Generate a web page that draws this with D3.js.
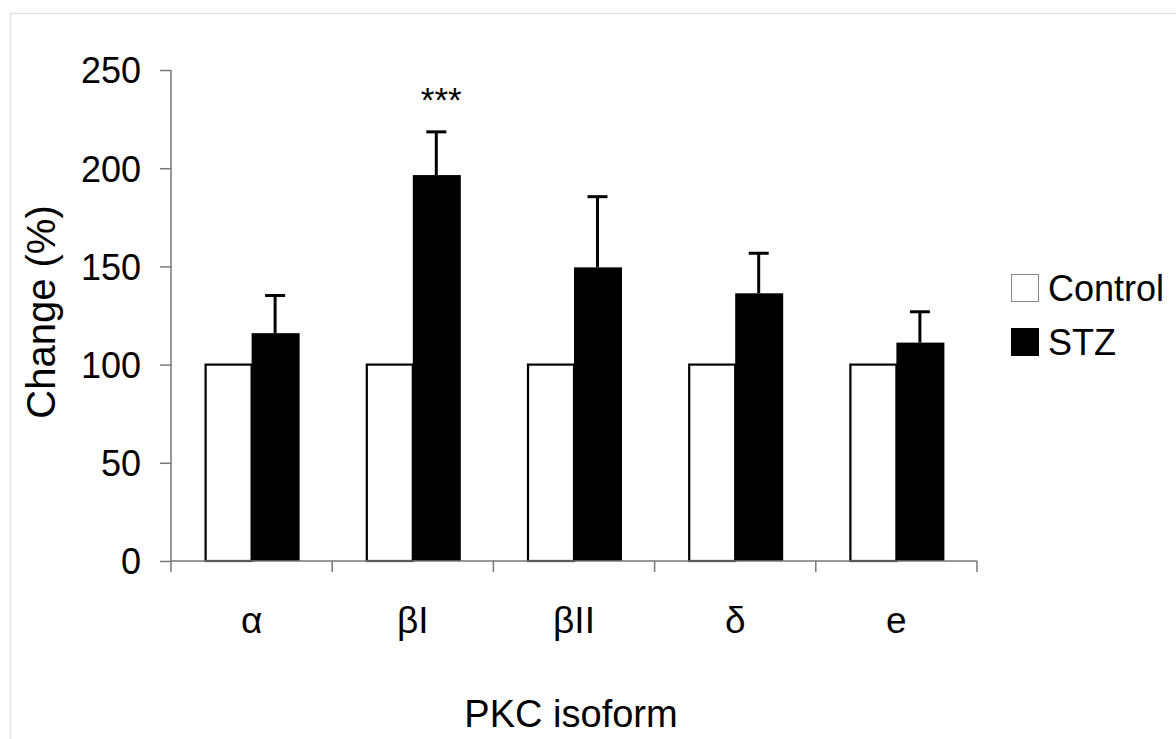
<!DOCTYPE html>
<html>
<head>
<meta charset="utf-8">
<script src="https://cdn.jsdelivr.net/npm/d3@7"></script>
<style>
  body { margin: 0; background: #fff; }
  text { font-family: "Liberation Sans", Arial, sans-serif; fill: #000; }
</style>
</head>
<body>
<div id="chart"></div>
<script>
// data
var isoforms = ["α", "βI", "βII", "δ", "e"];
var groups = ["Control", "STZ"];
var controlValues = [100, 100, 100, 100, 100];
var stzValues = [116, 196.5, 149.5, 136.3, 111.2];
var stzErrors = [19.2, 22, 36, 20.4, 15.7];
var significance = ["", "***", "", "", ""];
var yTicks = [0, 50, 100, 150, 200, 250];

var W = 1176, H = 739;
var margin = {top: 70, left: 171},
    width = 806,
    height = 491;

var svg = d3.select("#chart")
    .append("svg")
    .attr("width", W)
    .attr("height", H);

// light frame round the figure
svg.append("rect")
    .attr("x", 10.5)
    .attr("y", 13.5)
    .attr("width", 1300)
    .attr("height", 900)
    .attr("fill", "#fff")
    .attr("stroke", "#e3e3e3")
    .attr("stroke-width", 1.5);

var g = svg.append("g")
    .attr("transform", "translate(" + margin.left + "," + margin.top + ")");

var x = d3.scaleBand()
    .domain(isoforms)
    .range([0, width])
    .padding(0);

var xSub = d3.scaleBand()
    .domain(groups)
    .range([0, x.bandwidth()])
    .paddingInner(0)
    .paddingOuter(0.715);

var y = d3.scaleLinear()
    .domain([0, 250])
    .range([height, 0]);

var rows = isoforms.map(function (k, i) {
    return {key: k, Control: controlValues[i], STZ: stzValues[i], err: stzErrors[i], sig: significance[i]};
});

// bars
var grp = g.selectAll(".grp")
    .data(rows)
    .enter()
    .append("g")
    .attr("transform", function (d) { return "translate(" + x(d.key) + ",0)"; });

grp.append("rect")
    .attr("x", xSub("Control") + 1)
    .attr("y", function (d) { return y(d.Control); })
    .attr("width", xSub.bandwidth() - 1)
    .attr("height", function (d) { return height - y(d.Control); })
    .attr("fill", "#fff")
    .attr("stroke", "#000")
    .attr("stroke-width", 2.2);

// error bars (upper only)
grp.append("line")
    .attr("x1", xSub("STZ") + xSub.bandwidth() / 2)
    .attr("x2", xSub("STZ") + xSub.bandwidth() / 2)
    .attr("y1", function (d) { return y(d.STZ); })
    .attr("y2", function (d) { return y(d.STZ + d.err); })
    .attr("stroke", "#000")
    .attr("stroke-width", 3);

grp.append("line")
    .attr("x1", xSub("STZ") + xSub.bandwidth() / 2 - 10)
    .attr("x2", xSub("STZ") + xSub.bandwidth() / 2 + 10)
    .attr("y1", function (d) { return y(d.STZ + d.err); })
    .attr("y2", function (d) { return y(d.STZ + d.err); })
    .attr("stroke", "#000")
    .attr("stroke-width", 3);

grp.append("rect")
    .attr("x", xSub("STZ"))
    .attr("y", function (d) { return y(d.STZ); })
    .attr("width", xSub.bandwidth() + 1)
    .attr("height", function (d) { return height - y(d.STZ); })
    .attr("fill", "#000");

grp.append("text")
    .attr("x", xSub("STZ") + xSub.bandwidth() / 2 + 5)
    .attr("y", function (d) { return y(d.STZ + d.err) - 20; })
    .attr("text-anchor", "middle")
    .attr("font-size", "35px")
    .text(function (d) { return d.sig; });

// y axis
var yAxis = g.append("g")
    .call(d3.axisLeft(y).tickValues(yTicks).tickSize(11).tickPadding(19));
yAxis.select(".domain").remove();
yAxis.selectAll(".tick line").attr("stroke", "#777").attr("stroke-width", 1.5);
yAxis.selectAll(".tick text")
    .attr("font-size", "36px")
    .attr("font-family", "Liberation Sans, Arial, sans-serif")
    .attr("dy", "0.36em");

g.append("line")
    .attr("x1", 0).attr("x2", 0)
    .attr("y1", 0).attr("y2", height + 11)
    .attr("stroke", "#777")
    .attr("stroke-width", 1.5);

// x axis with ticks between groups
g.append("line")
    .attr("x1", 0).attr("x2", width)
    .attr("y1", height).attr("y2", height)
    .attr("stroke", "#777")
    .attr("stroke-width", 1.5);

var bounds = isoforms.map(function (k) { return x(k) + x.bandwidth(); });
g.selectAll(".xtick")
    .data(bounds)
    .enter()
    .append("line")
    .attr("x1", function (d) { return d; })
    .attr("x2", function (d) { return d; })
    .attr("y1", height)
    .attr("y2", height + 11)
    .attr("stroke", "#777")
    .attr("stroke-width", 1.5);

g.selectAll(".xlabel")
    .data(isoforms)
    .enter()
    .append("text")
    .attr("x", function (d) { return x(d) + x.bandwidth() / 2; })
    .attr("y", height + 72)
    .attr("text-anchor", "middle")
    .attr("font-size", "37px")
    .text(function (d) { return d; });

// axis titles
svg.append("text")
    .attr("x", 571)
    .attr("y", 727)
    .attr("text-anchor", "middle")
    .attr("font-size", "38px")
    .text("PKC isoform");

svg.append("text")
    .attr("transform", "translate(55,312) rotate(-90)")
    .attr("text-anchor", "middle")
    .attr("font-size", "40px")
    .text("Change (%)");

// legend
var legend = svg.append("g")
    .attr("transform", "translate(1011,274)");

var legItems = legend.selectAll(".leg")
    .data(groups)
    .enter()
    .append("g")
    .attr("transform", function (d, i) { return "translate(0," + (i * 54) + ")"; });

legItems.append("rect")
    .attr("x", 0.5)
    .attr("y", 0.5)
    .attr("width", 27)
    .attr("height", 27)
    .attr("fill", function (d) { return d == "STZ" ? "#000" : "#fff"; })
    .attr("stroke", function (d) { return d == "STZ" ? "#000" : "#888"; })
    .attr("stroke-width", 1);

legItems.append("text")
    .attr("x", 37)
    .attr("y", 27)
    .attr("font-size", "36px")
    .text(function (d) { return d; });
</script>
</body>
</html>
